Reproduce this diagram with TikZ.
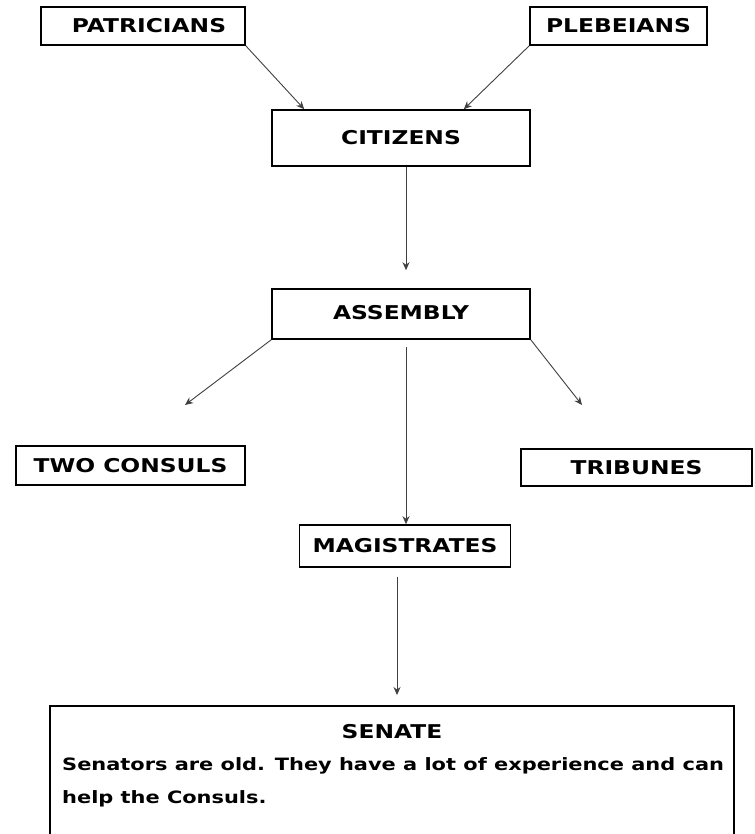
\documentclass[tikz,border=0pt]{standalone}
\usepackage{fontspec}
\setmainfont[FakeStretch=1.23]{DejaVu Sans}
\usetikzlibrary{arrows.meta,positioning}
\begin{document}
\begin{tikzpicture}[x=1pt,y=-1pt,
  box/.style={draw=black,line width=1.6pt,rectangle,inner sep=0pt,font=\fontsize{19}{23}\selectfont\bfseries},
  conn/.style={draw=black!75,line width=0.9pt,-{Stealth[length=8pt,width=7pt]}}]
\useasboundingbox (0,0) rectangle (754,834);
\fill[white] (0,0) rectangle (754,834);
\node[box,minimum width=204pt,minimum height=38pt] (pat) at (143,26) {\raisebox{-3pt}{\hspace{12pt}PATRICIANS}};
\node[box,minimum width=177pt,minimum height=38pt] (pleb) at (618.5,26) {\raisebox{-1pt}{PLEBEIANS}};
\node[box,minimum width=258pt,minimum height=56pt] (cit) at (401,138) {CITIZENS};
\node[box,minimum width=258pt,minimum height=50pt] (asm) at (401,314) {\raisebox{3pt}{ASSEMBLY}};
\node[box,minimum width=229pt,minimum height=39pt] (cons) at (130.5,465.5) {TWO CONSULS};
\node[box,minimum width=231pt,minimum height=37pt] (trib) at (636.5,467.5) {\raisebox{-3pt}{TRIBUNES}};
\node[box,minimum width=211pt,minimum height=42pt] (mag) at (405,546) {MAGISTRATES};
\draw[line width=1.6pt] (50,850) -- (50,706) -- (734,706) -- (734,850);
\node[font=\fontsize{19}{23}\selectfont\bfseries] (sent) at (392,732) {SENATE};
\node[font=\fontsize{17}{33}\selectfont\bfseries,anchor=north west,inner sep=0pt,align=left] (senb) at (62,757) {Senators are old. They have a lot of experience and can\\help the Consuls.};
\coordinate (sen) at (397,706);
\coordinate (lft) at (185,405);
\coordinate (rgt) at (582,405);
\draw[conn] (pat.south east) -- ([xshift=33pt]cit.north west);
\draw[conn] (pleb.south west) -- ([xshift=-67pt]cit.north east);
\draw[conn] ([xshift=5pt]cit.south) -- ([xshift=5pt,yshift=18pt]asm.north);
\draw[conn] (asm.south west) -- (lft);
\draw[conn] (asm.south east) -- (rgt);
\draw[conn] ([xshift=5pt,yshift=-7pt]asm.south) -- ([xshift=1pt]mag.north);
\draw[conn] ([xshift=-8pt,yshift=-9pt]mag.south) -- ([yshift=11pt]sen);
\end{tikzpicture}
\end{document}
